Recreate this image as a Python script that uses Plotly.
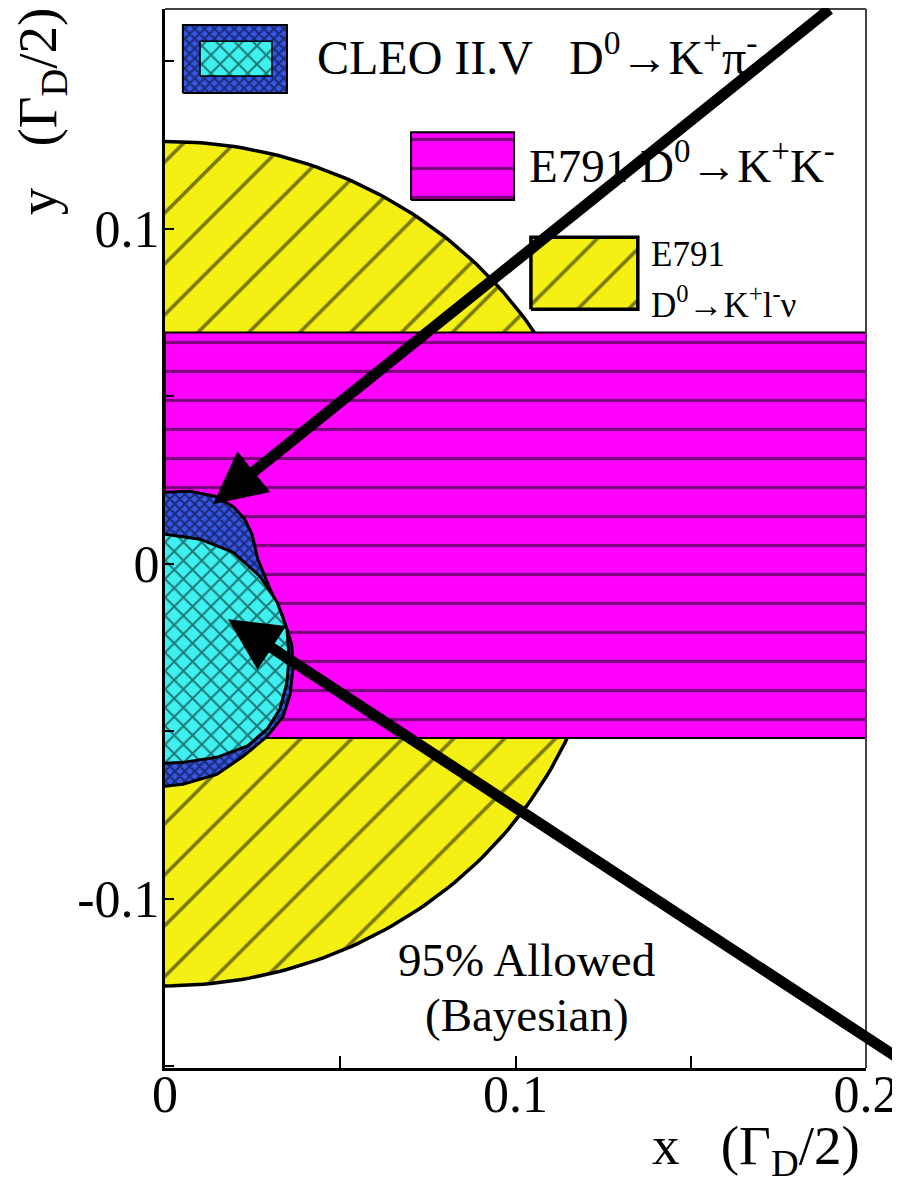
import numpy as np
import plotly.graph_objects as go

# E791 D0 -> K+ l- nu : allowed region is a disk x^2 + y^2 < r^2
semilep_radius = 0.126

# E791 D0 -> K+ K- : allowed band in y
kk_y_low = -0.052
kk_y_high = 0.069
kk_x = [0.0, 0.2]

# CLEO II.V D0 -> K+ pi- : outer (dark blue) and inner (cyan) contours
cleo_outer_x = [0.0, 0.0071, 0.0143, 0.0194, 0.0228, 0.0248, 0.0265, 0.0300, 0.0334,
                0.0362, 0.0365, 0.0357, 0.0337, 0.0291, 0.0223, 0.0148, 0.0051, 0.0]
cleo_outer_y = [0.0213, 0.0216, 0.0201, 0.0171, 0.0132, 0.0088, 0.0013, -0.0077, -0.0152,
                -0.0241, -0.0316, -0.0390, -0.0456, -0.0516, -0.0575, -0.0629, -0.0658, -0.0664]
cleo_inner_x = [0.0, 0.0100, 0.0194, 0.0271, 0.0320, 0.0348, 0.0354, 0.0348, 0.0328,
                0.0291, 0.0234, 0.0148, 0.0051, 0.0]
cleo_inner_y = [0.0088, 0.0073, 0.0034, -0.0038, -0.0115, -0.0196, -0.0276, -0.0354, -0.0434,
                -0.0494, -0.0545, -0.0578, -0.0593, -0.0596]

x_ticks = [0, 0.05, 0.1, 0.15, 0.2]
x_ticktext = ["0", "", "0.1", "", "0.2"]
y_ticks = [-0.15, -0.1, -0.05, 0, 0.05, 0.1, 0.15]
y_ticktext = ["", "-0.1", "", "0", "", "0.1", ""]

FONT = "Liberation Serif"
YELLOW = "#f4f014"
MAGENTA = "#ff00ff"
CYAN = "#3ff0f0"
BLUE = "#3656e8"

yellow_pat = dict(shape="/", bgcolor=YELLOW, fgcolor="black", size=36, solidity=0.1)
magenta_pat = dict(shape="-", bgcolor=MAGENTA, fgcolor="black", size=29, solidity=0.11)
cyan_pat = dict(shape="x", bgcolor=CYAN, fgcolor="black", size=13, solidity=0.28)
blue_pat = dict(shape="x", bgcolor=BLUE, fgcolor="black", size=7, solidity=0.5)


def region(x, y, pat, lw):
    return go.Scatter(x=x, y=y, mode="lines", fill="toself", fillcolor=pat["bgcolor"],
                      fillpattern=pat, line=dict(color="black", width=lw),
                      hoverinfo="skip", showlegend=False)


def box(x0, x1, y0, y1, pat, lw):
    return region([x0, x1, x1, x0, x0], [y0, y0, y1, y1, y0], pat, lw)


theta = np.linspace(np.pi / 2, -np.pi / 2, 181)
fig = go.Figure()
fig.add_trace(region(semilep_radius * np.cos(theta), semilep_radius * np.sin(theta), yellow_pat, 3.5))
fig.add_trace(box(kk_x[0], kk_x[1], kk_y_low, kk_y_high, magenta_pat, 2))
fig.add_trace(region(cleo_outer_x, cleo_outer_y, blue_pat, 3))
fig.add_trace(region(cleo_inner_x, cleo_inner_y, cyan_pat, 3))

# legend swatches
fig.add_trace(box(0.0051, 0.0348, 0.1404, 0.1607, blue_pat, 2))
fig.add_trace(box(0.0100, 0.0305, 0.1455, 0.1559, cyan_pat, 1.5))
fig.add_trace(box(0.0702, 0.0996, 0.1085, 0.1287, magenta_pat, 2))
fig.add_trace(box(0.1044, 0.1349, 0.0759, 0.0974, yellow_pat, 3.5))

nb = "\u00a0"
annots = [
    dict(x=0.214, y=0.9575, text="CLEO II.V" + nb * 3 + "D<sup>0</sup>→K<sup>+</sup>π<sup>-</sup>", size=48),
    dict(x=0.516, y=0.855, text="E791" + nb + "D<sup>0</sup>→K<sup>+</sup>K<sup>-</sup>", size=47),
    dict(x=0.690, y=0.7686, text="E791", size=35),
    dict(x=0.690, y=0.7233, text="D<sup>0</sup>→K<sup>+</sup>l<sup>-</sup>ν", size=35),
]
for a in annots:
    fig.add_annotation(x=a["x"], y=a["y"], xref="paper", yref="paper", text=a["text"],
                       showarrow=False, xanchor="left", yanchor="middle",
                       font=dict(family=FONT, size=a["size"], color="black"))

fig.add_annotation(x=0.516, y=0.076, xref="paper", yref="paper", text="95% Allowed",
                   showarrow=False, font=dict(family=FONT, size=47, color="black"))
fig.add_annotation(x=0.516, y=0.024, xref="paper", yref="paper", text="(Bayesian)",
                   showarrow=False, font=dict(family=FONT, size=47, color="black"))

# axis titles
fig.add_annotation(x=0.994, y=-0.077, xref="paper", yref="paper",
                   text="x" + nb * 3 + "(Γ<sub>D</sub>/2)", showarrow=False,
                   xanchor="right", yanchor="middle",
                   font=dict(family=FONT, size=55, color="black"))
fig.add_annotation(x=-0.176, y=0.903, xref="paper", yref="paper",
                   text="y" + nb * 3 + "(Γ<sub>D</sub>/2)", showarrow=False, textangle=-90,
                   xanchor="center", yanchor="middle",
                   font=dict(family=FONT, size=55, color="black"))

# the two arrows pointing at the CLEO contours (tails kept on the page edge)
fig.add_annotation(x=0.0137, y=0.0177, xref="x", yref="y", text="", showarrow=True,
                   ax=618, ay=-498, arrowhead=2, arrowsize=0.95, arrowwidth=11,
                   arrowcolor="black", standoff=0)
fig.add_annotation(x=0.0180, y=-0.0166, xref="x", yref="y", text="", showarrow=True,
                   ax=678, ay=444, arrowhead=2, arrowsize=0.95, arrowwidth=11,
                   arrowcolor="black", standoff=0)

# thin top/right frame
fig.add_shape(type="line", xref="paper", yref="paper", x0=0, x1=1, y0=1, y1=1,
              line=dict(color="#444", width=2))
fig.add_shape(type="line", xref="paper", yref="paper", x0=1, x1=1, y0=0, y1=1,
              line=dict(color="#444", width=2))

fig.update_xaxes(range=[0, 0.2], tickvals=x_ticks, ticktext=x_ticktext, ticks="inside",
                 ticklen=12, tickwidth=2, tickcolor="black", showline=True, linewidth=3,
                 linecolor="black", showgrid=False, zeroline=False, ticklabelstandoff=-21,
                 automargin=False, tickfont=dict(family=FONT, size=52, color="black"))
fig.update_yaxes(range=[-0.1505, 0.1655], tickvals=y_ticks, ticktext=y_ticktext, ticks="inside",
                 ticklen=9, tickwidth=2, tickcolor="black", showline=True, linewidth=3,
                 linecolor="black", showgrid=False, zeroline=False, ticklabelstandoff=-8,
                 automargin=False, tickfont=dict(family=FONT, size=52, color="black"))

# the page body adds an 8px offset, so the margins are shifted by that amount
fig.update_layout(width=900, height=1181, margin=dict(l=157, r=42, t=1, b=121),
                  paper_bgcolor="white", plot_bgcolor="white", showlegend=False)

fig.write_html("out.html")
